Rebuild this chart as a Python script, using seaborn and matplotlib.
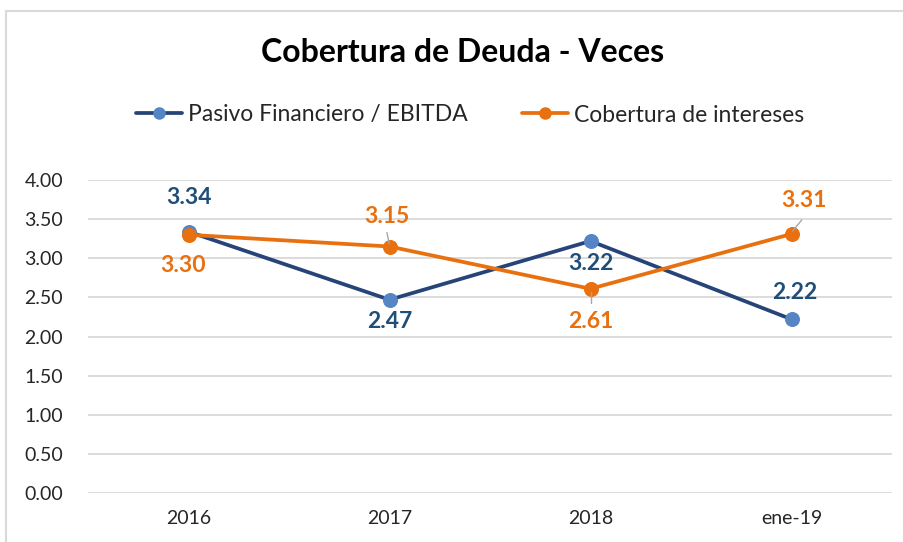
import matplotlib
matplotlib.use("Agg")
import matplotlib.pyplot as plt
from matplotlib.lines import Line2D
import seaborn as sns
import pandas as pd

periodos = ["2016", "2017", "2018", "ene-19"]
pasivo_ebitda = [3.34, 2.47, 3.22, 2.22]
cobertura_intereses = [3.30, 3.15, 2.61, 3.31]
series = ["Pasivo Financiero / EBITDA", "Cobertura de intereses"]
y_ticks = [0.0, 0.5, 1.0, 1.5, 2.0, 2.5, 3.0, 3.5, 4.0]

sns.set_theme(style="white")
plt.rcParams["font.family"] = ["Lato", "DejaVu Sans"]

line_cols = {series[0]: "#264478", series[1]: "#E8700F"}
marker_cols = {series[0]: "#5585C5", series[1]: "#E8700F"}
label_cols = {series[0]: "#1F4E79", series[1]: "#E8700F"}

df = pd.DataFrame({
    "periodo": periodos * 2,
    "x": list(range(len(periodos))) * 2,
    "valor": pasivo_ebitda + cobertura_intereses,
    "serie": [series[0]] * len(periodos) + [series[1]] * len(periodos),
})

fig = plt.figure(figsize=(9.04, 5.42), dpi=100)
ax = fig.add_axes([88 / 904, 49 / 542, 804 / 904, 313 / 542])

for s in series:
    sub = df[df["serie"] == s]
    sns.lineplot(data=sub, x="x", y="valor", ax=ax, color=line_cols[s],
                 linewidth=2.7, marker="o", markersize=10,
                 markerfacecolor=marker_cols[s], markeredgecolor=marker_cols[s],
                 legend=False, zorder=3)

ax.set_xlim(-0.5, len(periodos) - 0.5)
ax.set_ylim(0, 4)
ax.set_yticks(y_ticks)
ax.set_yticklabels([f"{v:.2f}" for v in y_ticks])
ax.set_xticks(range(len(periodos)))
ax.set_xticklabels(periodos)
ax.set_xlabel("")
ax.set_ylabel("")
ax.tick_params(axis="both", length=0, labelsize=14, colors="#262626")
ax.tick_params(axis="y", pad=18)
ax.tick_params(axis="x", pad=12)
ax.yaxis.grid(True, color="#D9D9D9", linewidth=1.3)
ax.set_axisbelow(True)
for sp in ax.spines.values():
    sp.set_visible(False)

# data labels: (dx, dy) offsets in pixels, and whether a leader line is drawn
offsets = {
    series[0]: [(0, 34, False), (0, -22, False), (0, -22, False), (3, 27, False)],
    series[1]: [(-5, -31, False), (-3, 30, True), (0, -33, True), (12, 33, True)],
}
for s, vals in zip(series, [pasivo_ebitda, cobertura_intereses]):
    for i, v in enumerate(vals):
        dx, dy, leader = offsets[s][i]
        ax.annotate(f"{v:.2f}", xy=(i, v), xytext=(dx, dy),
                    textcoords="offset pixels", ha="center", va="center",
                    fontsize=16.5, fontweight="bold", color=label_cols[s],
                    annotation_clip=False, zorder=5)
        if leader:
            sgn = 1 if dy > 0 else -1
            x0, y0 = ax.transData.transform((i, v))
            p1 = (x0 + dx * 0.1, y0 + sgn * 3)
            p2 = (x0 + dx * 0.85, y0 + sgn * 14)
            inv = ax.transData.inverted()
            a = inv.transform(p1)
            b = inv.transform(p2)
            ax.plot([a[0], b[0]], [a[1], b[1]], color="#A6A6A6", linewidth=1.0,
                    zorder=4)

fig.text(463 / 904, 1 - 53 / 542, "Cobertura de Deuda - Veces", ha="center",
         va="center", fontsize=23, fontweight="bold", color="#000000")

handles = [Line2D([0], [0], color=line_cols[s], linewidth=2.7, marker="o",
                  markersize=8, markerfacecolor=marker_cols[s],
                  markeredgecolor=marker_cols[s]) for s in series]
fig.legend(handles, series, loc="center", bbox_to_anchor=(470 / 904, 1 - 115 / 542),
           ncol=2, frameon=False, fontsize=16.5, handlelength=2.0,
           handletextpad=0.25, columnspacing=2.4, labelcolor="#262626")

# outer chart frame (left and top edges)
fig.add_artist(Line2D([6 / 904, 6 / 904], [0, 1 - 11 / 542],
                      transform=fig.transFigure, color="#D9D9D9", linewidth=1.5))
fig.add_artist(Line2D([6 / 904, 1], [1 - 11 / 542, 1 - 11 / 542],
                      transform=fig.transFigure, color="#D9D9D9", linewidth=1.5))

fig.savefig("out.png", dpi=100, facecolor="white")
